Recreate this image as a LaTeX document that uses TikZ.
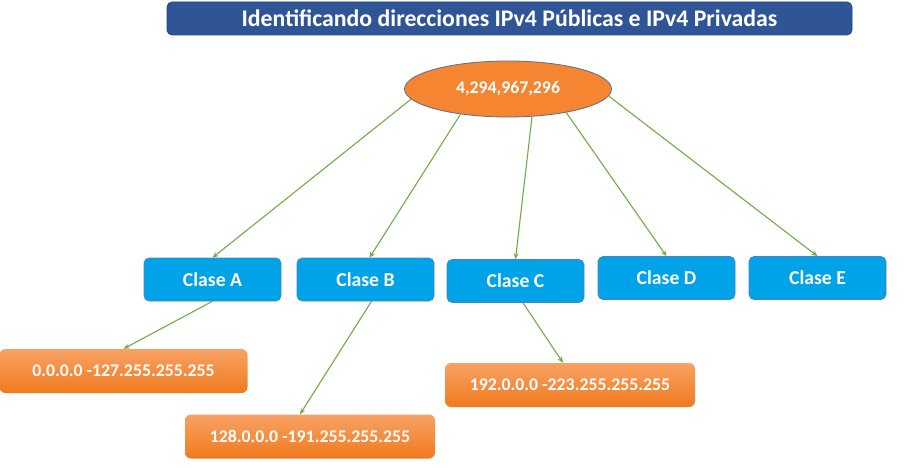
\documentclass[tikz,border=0pt]{standalone}
\usepackage{fontspec}
\setmainfont{Carlito}
\usetikzlibrary{arrows.meta,shapes.geometric}

\definecolor{titleblue}{HTML}{2F5597}
\definecolor{titleedge}{HTML}{24477F}
\definecolor{classblue}{HTML}{00A2E8}
\definecolor{classedge}{HTML}{4F81BD}
\definecolor{rangeorange}{HTML}{F58530}
\definecolor{rangelight}{HTML}{F8A264}
\definecolor{rangedark}{HTML}{F07A1E}
\definecolor{ellipseedge}{HTML}{5B6E8C}
\definecolor{linkgreen}{HTML}{70AD47}

\tikzset{
  titlebox/.style={draw=titleedge, line width=0.8pt, fill=titleblue, rounded corners=5pt,
    minimum width=685pt, minimum height=33pt, text=white,
    font=\fontsize{23.8}{26}\selectfont\bfseries},
  rootnode/.style={ellipse, draw=ellipseedge, line width=0.8pt, fill=rangeorange,
    minimum width=207pt, minimum height=56pt, inner sep=0pt, text=white,
    font=\fontsize{17.8}{20}\selectfont\bfseries},
  classbox/.style={draw=classedge, line width=0.6pt, fill=classblue, rounded corners=5pt,
    minimum width=137pt, minimum height=43pt, text=white,
    font=\fontsize{19.7}{22}\selectfont\bfseries},
  rangebox/.style={rounded corners=6pt, top color=rangelight, bottom color=rangedark,
    minimum width=248pt, minimum height=44pt, text=white,
    font=\fontsize{17.8}{20}\selectfont\bfseries},
  link/.style={draw=linkgreen, line width=1.1pt, -{Stealth[length=6pt,width=5pt]}}
}

\begin{document}
\begin{tikzpicture}[x=1pt,y=-1pt]
  \useasboundingbox[fill=white] (0,0) rectangle (913,468);

  % heading
  \node[titlebox] (title) at (509.5,18.5) {Identificando direcciones IPv4 Públicas e IPv4 Privadas};

  % total address count
  \node[rootnode] (root) at (508,89) {4,294,967,296};

  % address classes
  \node[classbox] (A) at (212.5,279.5) {Clase A};
  \node[classbox] (B) at (365.5,279.5) {Clase B};
  \node[classbox] (C) at (515.5,281)   {Clase C};
  \node[classbox] (D) at (666.5,278)   {Clase D};
  \node[classbox] (E) at (817.5,278)   {Clase E};

  % address ranges
  \node[rangebox] (rA) at (123.5,371) {0.0.0.0 -127.255.255.255};
  \node[rangebox, minimum width=250pt] (rB) at (310,436.5) {128.0.0.0 -191.255.255.255};
  \node[rangebox, minimum width=250pt] (rC) at (570,385) {192.0.0.0 -223.255.255.255};

  % connectors from the total to each class
  \draw[link] (root.186.5) -- (A.north);
  \draw[link] (root.208) -- ([xshift=4pt]B.north);
  \draw[link] (root.311) -- (C.north);
  \draw[link] (root.338) -- (D.north);
  \draw[link] (root.356) -- (E.north);

  % connectors from classes to their ranges
  \draw[link] (A.south) -- (rA.north);
  \draw[link] ([xshift=6pt]B.south) -- ([xshift=-10pt]rB.north);
  \draw[link] ([xshift=7.5pt]C.south) -- ([xshift=-7pt]rC.north);
\end{tikzpicture}
\end{document}
